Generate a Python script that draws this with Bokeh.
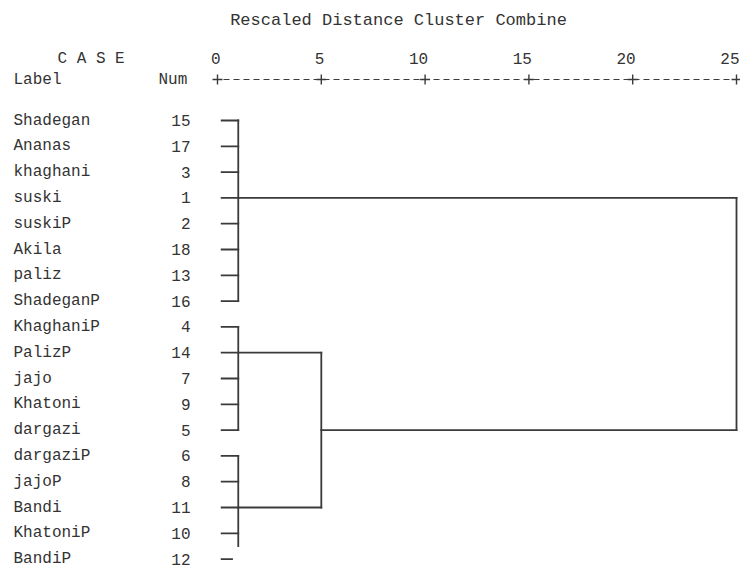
from bokeh.plotting import figure
from bokeh.models import Range1d
from bokeh.core.properties import value
from bokeh.embed import file_html
from bokeh.resources import INLINE

# ---------------- data ----------------
title_text = "Rescaled Distance Cluster Combine"
case_labels = ["Shadegan", "Ananas", "khaghani", "suski", "suskiP", "Akila",
               "paliz", "ShadeganP", "KhaghaniP", "PalizP", "jajo", "Khatoni",
               "dargazi", "dargaziP", "jajoP", "Bandi", "KhatoniP", "BandiP"]
case_nums = [15, 17, 3, 1, 2, 18, 13, 16, 4, 14, 7, 9, 5, 6, 8, 11, 10, 12]
# rescaled distance at which each leaf's stub ends
leaf_join = [1.0, 1.0, 1.0, 1.0, 1.0, 1.0, 1.0, 1.0, 1.0,
             1.0, 1.0, 1.0, 1.0, 1.0, 1.0, 1.0, 1.0, 0.7]
leaf_start = 0.2
# clusters: merge height, first row, last row, row of exit line, parent height
cluster_height = [1.0, 1.0, 1.0, 5.0, 25.0]
cluster_top = [0, 8, 13, 9, 3]
cluster_bottom = [7, 12, 16.5, 15, 12]
cluster_exit_row = [3, 9, 15, 12, None]
cluster_parent_height = [25.0, 5.0, 5.0, 25.0, None]
scale_ticks = [0, 5, 10, 15, 20, 25]

# ---------------- layout ----------------
W, H = 740, 569
X0_PX = 217.0        # px of distance 0
PX_PER_UNIT = 20.76
ROW0_PX = 120.0      # px of first row
ROW_PX = 25.8


def px_x(fx):
    return (fx - X0_PX) / PX_PER_UNIT


def px_y(fy):
    return (fy - ROW0_PX) / ROW_PX


p = figure(width=W, height=H, output_backend="svg", toolbar_location=None,
           x_range=Range1d(px_x(0), px_x(W)),
           y_range=Range1d(px_y(H), px_y(0)),
           min_border=0, min_border_left=0, min_border_right=0,
           min_border_top=0, min_border_bottom=0)
p.axis.visible = False
p.grid.visible = False
p.outline_line_color = None
p.background_fill_color = "white"
p.border_fill_color = "white"

LINE_COLOR = "#3a3a3a"
TEXT_COLOR = "#333333"
FONT = value("Liberation Mono")

# ---------------- dendrogram ----------------
x0, y0, x1, y1 = [], [], [], []
for i, j in enumerate(leaf_join):
    x0.append(leaf_start); y0.append(i); x1.append(j); y1.append(i)
for h, t, b in zip(cluster_height, cluster_top, cluster_bottom):
    x0.append(h); y0.append(t); x1.append(h); y1.append(b)
for h, r, ph in zip(cluster_height, cluster_exit_row, cluster_parent_height):
    if r is None:
        continue
    x0.append(h); y0.append(r); x1.append(ph); y1.append(r)
p.segment(x0=x0, y0=y0, x1=x1, y1=y1, line_color=LINE_COLOR,
          line_width=1.8, line_cap="square")

# ---------------- labels ----------------
rows = list(range(len(case_labels)))
p.text(x=[px_x(13)] * len(rows), y=rows, text=case_labels,
       text_font=FONT, text_font_size="16px", text_color=TEXT_COLOR,
       text_align="left", text_baseline="middle", text_line_height=1.0)
p.text(x=[px_x(190)] * len(rows), y=rows, text=[str(n) for n in case_nums],
       text_font=FONT, text_font_size="16px", text_color=TEXT_COLOR,
       text_align="right", text_baseline="middle", text_line_height=1.0)

# ---------------- header ----------------
axis_y = px_y(79)
num_y = px_y(58)
p.text(x=[px_x(398)], y=[px_y(20)], text=[title_text], text_font=FONT,
       text_font_size="17px", text_color=TEXT_COLOR, text_align="center",
       text_baseline="middle")
p.text(x=[px_x(57)], y=[num_y], text=["C A S E"], text_font=FONT,
       text_font_size="16px", text_color=TEXT_COLOR, text_align="left",
       text_baseline="middle")
p.text(x=[px_x(13), px_x(158)], y=[axis_y, axis_y], text=["Label", "Num"],
       text_font=FONT, text_font_size="16px", text_color=TEXT_COLOR,
       text_align="left", text_baseline="middle")
p.text(x=scale_ticks, y=[num_y] * len(scale_ticks),
       text=[str(t) for t in scale_ticks], text_font=FONT,
       text_font_size="16px", text_color=TEXT_COLOR, text_align="right",
       x_offset=3, text_baseline="middle")
p.segment(x0=[scale_ticks[0]], y0=[axis_y], x1=[scale_ticks[-1]], y1=[axis_y],
          line_color=LINE_COLOR, line_width=1.2, line_dash="6 4",
          line_dash_offset=-6)
p.scatter(x=scale_ticks, y=[axis_y] * len(scale_ticks), marker="cross",
          size=10, line_color=LINE_COLOR, line_width=1.4)

open("out.html", "w").write(file_html(p, INLINE))
